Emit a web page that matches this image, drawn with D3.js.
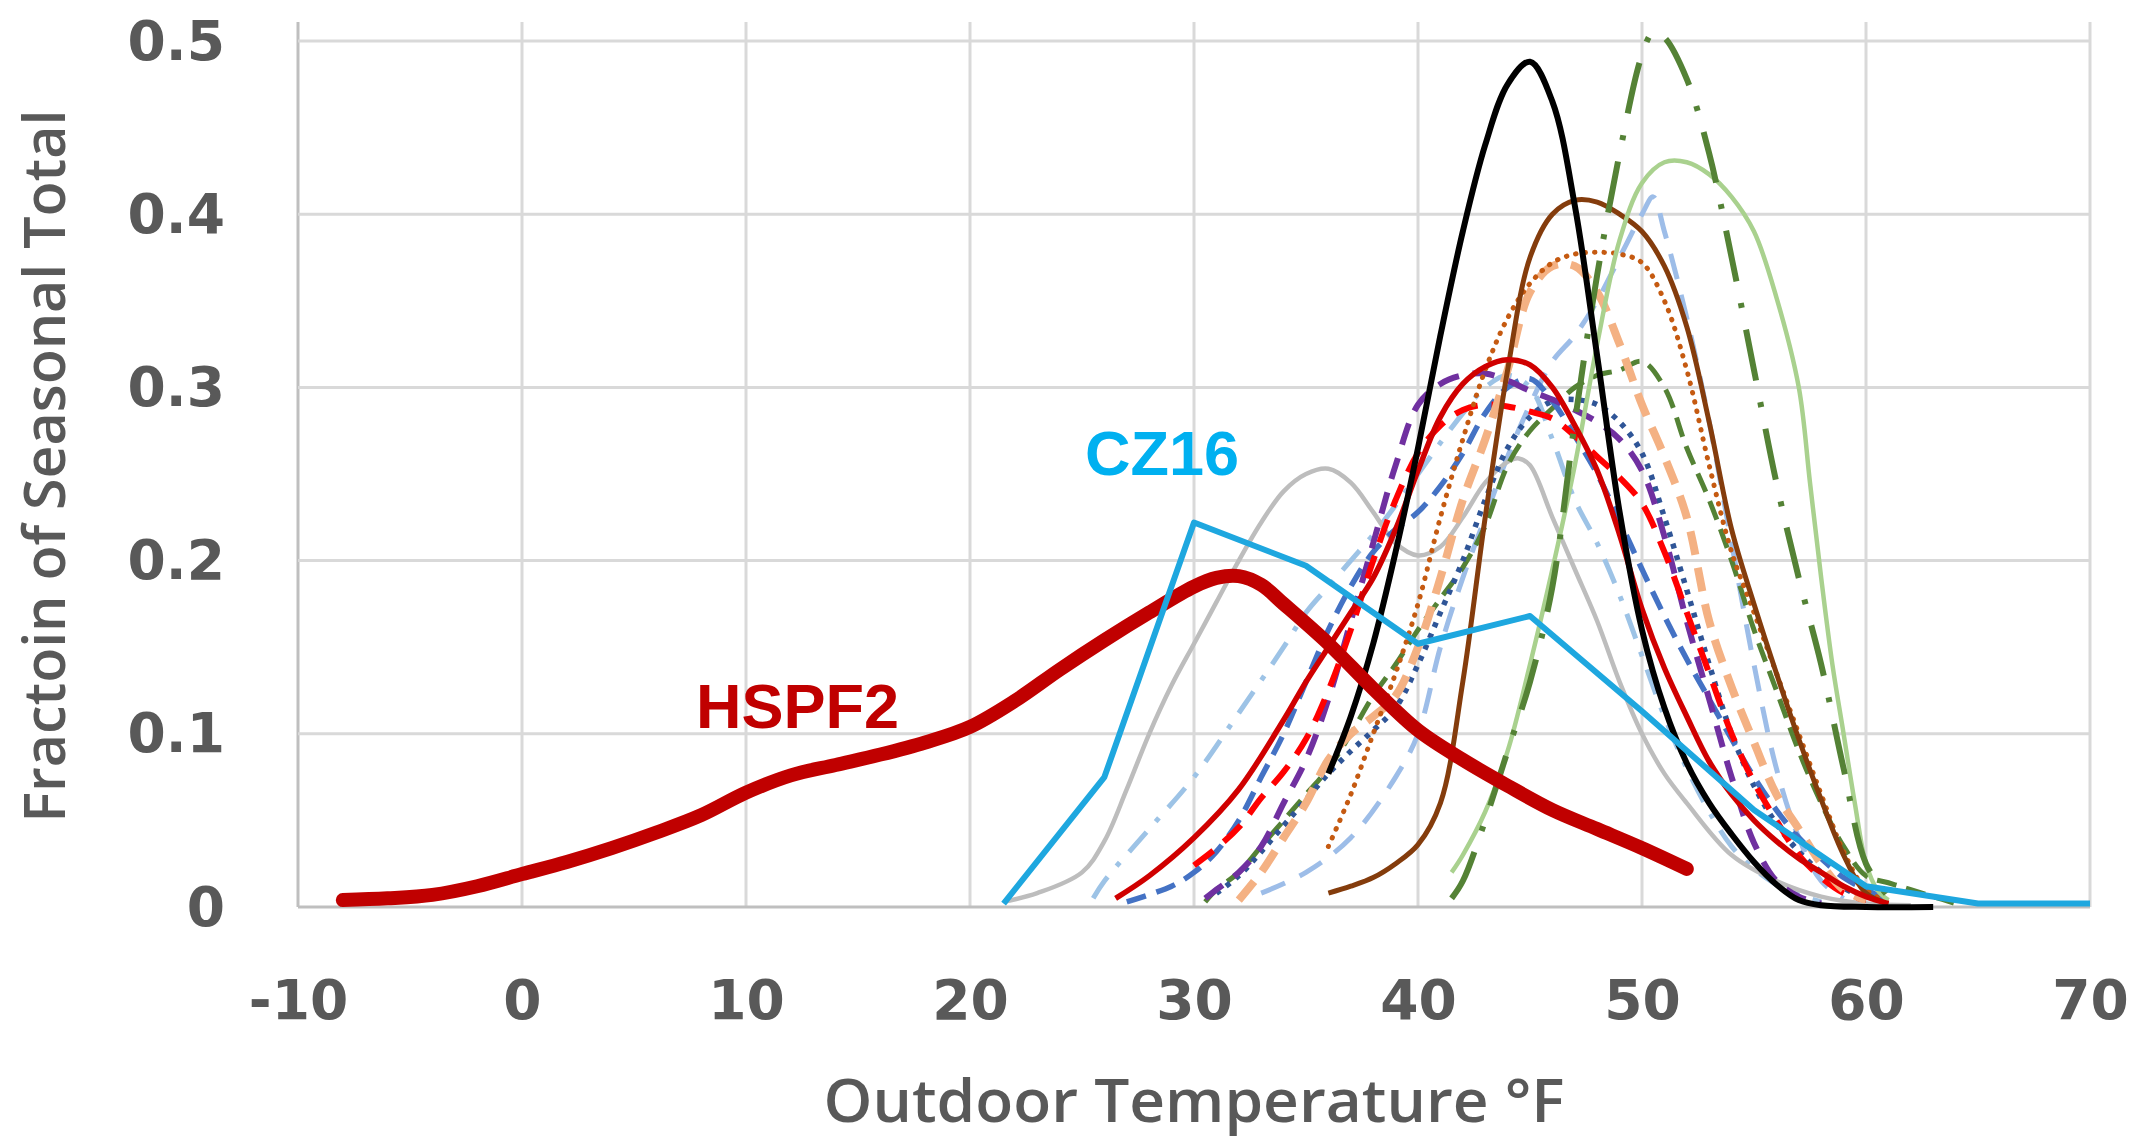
<!DOCTYPE html>
<html><head><meta charset="utf-8">
<script src="https://cdn.jsdelivr.net/npm/d3@7"></script>
<style>body{margin:0;background:#fff}svg{display:block}</style>
</head><body><svg id="c" width="2151" height="1143"></svg>
<script>
// ---------- data ----------
const xTicks = [-10, 0, 10, 20, 30, 40, 50, 60, 70];
const yTicks = [0, 0.1, 0.2, 0.3, 0.4, 0.5];
const xTitle = "Outdoor Temperature °F";
const yTitle = "Fractoin of Seasonal Total";
const labelHSPF2 = "HSPF2";
const labelCZ16 = "CZ16";

const hspf2 = [[-8,0.004],[-6,0.005],[-4,0.007],[-2,0.012],[0,0.019],[2,0.026],[4,0.034],[6,0.043],[8,0.053],[10,0.066],[12,0.076],[14,0.082],[16,0.088],[18,0.095],[20,0.104],[22,0.119],[24,0.137],[26,0.154],[28,0.17],[30,0.185],[31,0.19],[32,0.191],[33,0.186],[34,0.175],[36,0.152],[38,0.126],[40,0.102],[42,0.085],[44,0.07],[46,0.056],[48,0.045],[50,0.034],[52,0.022]];
const cz16 = [[21.5,0.002],[26,0.075],[30,0.222],[35,0.197],[40,0.152],[45,0.168],[50,0.113],[55,0.056],[60,0.012],[65,0.002],[70,0.002]];
const grayLine = [[21.5,0.003],[23,0.008],[25,0.02],[26,0.038],[27,0.068],[28,0.1],[29,0.128],[30,0.152],[31,0.176],[32,0.2],[33,0.222],[34,0.24],[35,0.25],[36,0.253],[37,0.245],[38,0.228],[39,0.21],[40,0.203],[41,0.208],[42,0.225],[43,0.245],[44,0.257],[44.5,0.259],[45,0.255],[46,0.225],[47,0.195],[48,0.165],[49,0.13],[50,0.1],[51,0.077],[52,0.06],[54,0.03],[56,0.015],[58,0.006],[60,0.002],[62,0.001]];
const blackLine = [[36,0.077],[37,0.11],[38,0.152],[39,0.205],[40,0.265],[41,0.33],[42,0.39],[43,0.44],[44,0.475],[45,0.488],[46,0.465],[47,0.405],[48,0.318],[49,0.228],[50,0.16],[51,0.115],[52,0.083],[53,0.06],[54,0.042],[55,0.026],[56,0.013],[57,0.004],[58,0.001],[60,0],[63,0]];
const brownLine = [[36,0.008],[37,0.012],[38,0.017],[39,0.025],[40,0.036],[41,0.06],[42,0.13],[43,0.225],[44,0.31],[45,0.375],[46,0.4],[47,0.408],[48,0.407],[49,0.4],[50,0.39],[51,0.37],[52,0.335],[53,0.28],[54,0.218],[55,0.175],[56,0.135],[57,0.097],[58,0.062],[59,0.03],[60,0.008],[61,0.002]];
const lightGreenLine = [[41.5,0.02],[42,0.03],[43,0.055],[44,0.09],[45,0.14],[46,0.195],[47,0.255],[48,0.325],[49,0.385],[50,0.418],[51,0.43],[52,0.43],[53,0.423],[54,0.41],[55,0.39],[56,0.352],[57,0.3],[57.5,0.245],[58,0.19],[58.5,0.14],[59,0.1],[59.5,0.06],[60,0.025],[60.5,0.01],[61,0.004]];
const darkGreenDashDot = [[41.5,0.005],[42,0.015],[43,0.05],[44,0.09],[45,0.13],[46,0.185],[47,0.28],[48,0.365],[49,0.435],[50,0.492],[50.5,0.505],[51,0.502],[52,0.478],[53,0.435],[54,0.375],[55,0.31],[56,0.245],[57,0.19],[58,0.14],[59,0.08],[60,0.025],[61,0.006]];
const redDashed = [[30,0.024],[31,0.034],[32,0.046],[33,0.063],[34,0.078],[35,0.097],[36,0.125],[37,0.16],[38,0.2],[39,0.235],[40,0.262],[41,0.278],[42,0.287],[43,0.29],[44,0.289],[45,0.286],[46,0.282],[47,0.272],[48,0.26],[49,0.248],[50,0.233],[51,0.205],[52,0.17],[53,0.135],[54,0.1],[55,0.072],[56,0.05],[57,0.03],[58,0.017],[59,0.008],[60,0.004]];
const redSolid = [[26.5,0.005],[28,0.018],[30,0.04],[32,0.068],[34,0.108],[35,0.13],[36,0.15],[37,0.17],[38,0.19],[39,0.218],[40,0.252],[41,0.283],[42,0.302],[43,0.312],[44,0.316],[45,0.313],[46,0.3],[47,0.278],[48,0.252],[49,0.215],[50,0.172],[51,0.138],[52,0.11],[53,0.084],[54,0.065],[55,0.05],[56,0.038],[57,0.028],[58,0.02],[59,0.012],[60,0.006],[61,0.002]];
const purpleDashed = [[30.5,0.005],[31,0.01],[32,0.02],[33,0.035],[34,0.06],[35,0.085],[36,0.12],[37,0.165],[38,0.21],[39,0.255],[40,0.29],[41,0.302],[42,0.307],[43,0.308],[44,0.304],[45,0.298],[46,0.293],[47,0.287],[48,0.28],[49,0.27],[50,0.252],[51,0.214],[52,0.165],[53,0.12],[54,0.075],[55,0.037],[56,0.015],[57,0.006],[58,0.002]];
const blueDashed = [[27,0.003],[29,0.012],[30,0.02],[31,0.032],[32,0.05],[33,0.075],[34,0.1],[35,0.13],[36,0.16],[37,0.185],[38,0.205],[39,0.218],[40,0.228],[41,0.243],[42,0.262],[43,0.285],[44,0.3],[45,0.305],[46,0.292],[47,0.272],[48,0.25],[49,0.223],[50,0.195],[51,0.168],[52,0.143],[53,0.12],[54,0.097],[55,0.075],[56,0.056],[57,0.04],[58,0.028],[59,0.017],[60,0.01],[61,0.004]];
const darkBlueDotted = [[31,0.008],[32,0.018],[33,0.032],[34,0.047],[35,0.062],[36,0.077],[37,0.09],[38,0.102],[39,0.115],[40,0.14],[41,0.17],[42,0.2],[43,0.235],[44,0.265],[45,0.283],[46,0.292],[47,0.293],[48,0.29],[49,0.28],[50,0.262],[51,0.225],[52,0.183],[53,0.14],[54,0.1],[55,0.07],[56,0.048],[57,0.032],[58,0.02],[59,0.011],[60,0.005]];
const peachDashed = [[32,0.004],[33,0.02],[34,0.04],[35,0.06],[36,0.085],[37,0.1],[38,0.11],[39,0.122],[40,0.15],[41,0.19],[42,0.235],[43,0.27],[44,0.31],[45,0.355],[46,0.37],[47,0.37],[48,0.355],[49,0.325],[50,0.29],[51,0.26],[52,0.225],[53,0.165],[54,0.127],[55,0.095],[56,0.065],[57,0.045],[58,0.025],[59,0.01],[60,0.004]];
const orangeDotted = [[36,0.035],[37,0.065],[38,0.1],[39,0.135],[40,0.175],[41,0.225],[42,0.27],[43,0.31],[44,0.34],[45,0.36],[46,0.372],[47,0.377],[48,0.378],[49,0.377],[50,0.372],[51,0.35],[52,0.31],[53,0.255],[54,0.205],[55,0.17],[56,0.135],[57,0.1],[58,0.065],[59,0.032],[60,0.01],[61,0.003]];
const lightBlueDashDot = [[25.5,0.005],[26,0.015],[28,0.045],[30,0.075],[32,0.112],[34,0.15],[35,0.17],[36,0.185],[37,0.2],[38,0.215],[39,0.232],[40,0.25],[41,0.268],[42,0.285],[43,0.3],[44,0.307],[45,0.3],[46,0.27],[47,0.235],[48,0.21],[49,0.18],[50,0.145],[51,0.11],[52,0.08],[53,0.055],[54,0.035],[55,0.022],[56,0.013],[57,0.007],[58,0.003]];
const lightBlueDashed = [[33,0.008],[35,0.02],[37,0.04],[39,0.075],[40,0.1],[41,0.15],[42,0.19],[43,0.225],[44,0.26],[45,0.29],[46,0.315],[47,0.33],[48,0.35],[49,0.375],[50,0.4],[50.5,0.41],[51,0.39],[52,0.34],[53,0.28],[54,0.21],[55,0.14],[56,0.08],[57,0.04],[58,0.015],[59,0.005]];
const darkGreenDashed = [[30.5,0.003],[31,0.01],[32,0.02],[33,0.035],[34,0.05],[35,0.065],[36,0.08],[37,0.1],[38,0.122],[39,0.14],[40,0.16],[41,0.178],[42,0.196],[43,0.22],[44,0.255],[45,0.275],[46,0.288],[47,0.3],[48,0.307],[49,0.31],[50,0.315],[51,0.3],[52,0.265],[53,0.235],[54,0.2],[55,0.16],[56,0.125],[57,0.09],[58,0.06],[59,0.035],[60,0.018],[61,0.014],[62,0.01],[63,0.006],[64,0.002]];

// ---------- styles (drawing order) ----------
const seriesStyles = [
  {data: lightBlueDashed,  color: "#9DBDE8", width: 5,   dash: "26,16"},
  {data: lightBlueDashDot, color: "#9DC3E6", width: 5,   dash: "26,14,5,14"},
  {data: grayLine,         color: "#BDBDBD", width: 4.5, dash: null},
  {data: darkGreenDashed,  color: "#548235", width: 5,   dash: "20,10"},
  {data: darkBlueDotted,   color: "#2F5597", width: 5.5, dash: "5,7"},
  {data: blueDashed,       color: "#4472C4", width: 5.5, dash: "20,11"},
  {data: purpleDashed,     color: "#7030A0", width: 6,   dash: "22,14"},
  {data: redDashed,        color: "#FF0000", width: 6,   dash: "24,14"},
  {data: peachDashed,      color: "#F4B183", width: 8,   dash: "24,13"},
  {data: orangeDotted,     color: "#C55A11", width: 5,   dash: "0.5,9", cap: "round"},
  {data: brownLine,        color: "#843C0C", width: 5,   dash: null},
  {data: lightGreenLine,   color: "#A9D18E", width: 4.5, dash: null},
  {data: darkGreenDashDot, color: "#548235", width: 6,   dash: "52,22,5,22"},
  {data: redSolid,         color: "#D00000", width: 5.5, dash: null},
  {data: blackLine,        color: "#000000", width: 6,   dash: null},
  {data: hspf2,            color: "#C00000", width: 14,  dash: null, cap: "round"},
  {data: cz16,             color: "#1EA7DF", width: 6,   dash: null, linear: true}
];

// ---------- chart ----------
const svg = d3.select("#c");
svg.append("rect").attr("width", 2151).attr("height", 1143).attr("fill", "#fff");

const x = d3.scaleLinear().domain([-10, 70]).range([298, 2090]);
const y = d3.scaleLinear().domain([0, 0.5]).range([907, 41]);
const yTop = y(0.511);

const grid = svg.append("g");
grid.selectAll("line.v").data(xTicks).join("line")
  .attr("x1", d => x(d)).attr("x2", d => x(d))
  .attr("y1", yTop).attr("y2", y(0))
  .attr("stroke", d => d === xTicks[0] ? "#BFBFBF" : "#D9D9D9")
  .attr("stroke-width", 3);
grid.selectAll("line.h").data(yTicks).join("line")
  .attr("x1", x(-10)).attr("x2", x(70))
  .attr("y1", d => y(d)).attr("y2", d => y(d))
  .attr("stroke", d => d === 0 ? "#BFBFBF" : "#D9D9D9")
  .attr("stroke-width", 3);

const labelFont = "'DejaVu Sans', Verdana, sans-serif";

const yAxis = svg.append("g").attr("transform", `translate(${x(-10)},0)`)
  .call(d3.axisLeft(y).tickValues(yTicks).tickSize(0).tickPadding(73)
    .tickFormat(d => d === 0 ? "0" : d3.format(".1f")(d)));
yAxis.select(".domain").remove();
yAxis.selectAll("text").attr("font-family", labelFont).attr("font-weight", "bold")
  .attr("font-size", 55).attr("fill", "#595959").attr("dy", "0.33em");

const xAxis = svg.append("g").attr("transform", `translate(0,${y(0)})`)
  .call(d3.axisBottom(x).tickValues(xTicks).tickSize(0).tickPadding(73).tickFormat(d => String(d)));
xAxis.select(".domain").remove();
xAxis.selectAll("text").attr("font-family", labelFont).attr("font-weight", "bold")
  .attr("font-size", 55).attr("fill", "#595959");

// series
const smooth = d3.line().x(d => x(d[0])).y(d => y(d[1])).curve(d3.curveCatmullRom.alpha(0.5));
const straight = d3.line().x(d => x(d[0])).y(d => y(d[1])).curve(d3.curveLinear);
const lines = svg.append("g");
seriesStyles.forEach(s => {
  lines.append("path")
    .attr("d", (s.linear ? straight : smooth)(s.data))
    .attr("fill", "none")
    .attr("stroke", s.color)
    .attr("stroke-width", s.width)
    .attr("stroke-dasharray", s.dash)
    .attr("stroke-linecap", s.cap || "butt")
    .attr("stroke-linejoin", "round");
});

// annotations
svg.append("text").text(labelHSPF2)
  .attr("x", 696).attr("y", 728)
  .attr("font-family", "'Liberation Sans', Arial, sans-serif").attr("font-weight", "bold")
  .attr("font-size", 63).attr("fill", "#C00000");
svg.append("text").text(labelCZ16)
  .attr("x", 1085).attr("y", 475)
  .attr("font-family", "'Liberation Sans', Arial, sans-serif").attr("font-weight", "bold")
  .attr("font-size", 63).attr("fill", "#00B0F0");

// axis titles
svg.append("text").text(xTitle)
  .attr("x", 1194).attr("y", 1122).attr("text-anchor", "middle")
  .attr("font-family", "'Open Sans', sans-serif").attr("font-weight", 600)
  .attr("font-size", 60).attr("fill", "#595959")
  .attr("textLength", 741).attr("lengthAdjust", "spacingAndGlyphs");
svg.append("text").text(yTitle)
  .attr("transform", "translate(65,466) rotate(-90)").attr("text-anchor", "middle")
  .attr("font-family", "'Open Sans', sans-serif").attr("font-weight", 600)
  .attr("font-size", 58).attr("fill", "#595959")
  .attr("textLength", 713).attr("lengthAdjust", "spacingAndGlyphs");
</script></body></html>
